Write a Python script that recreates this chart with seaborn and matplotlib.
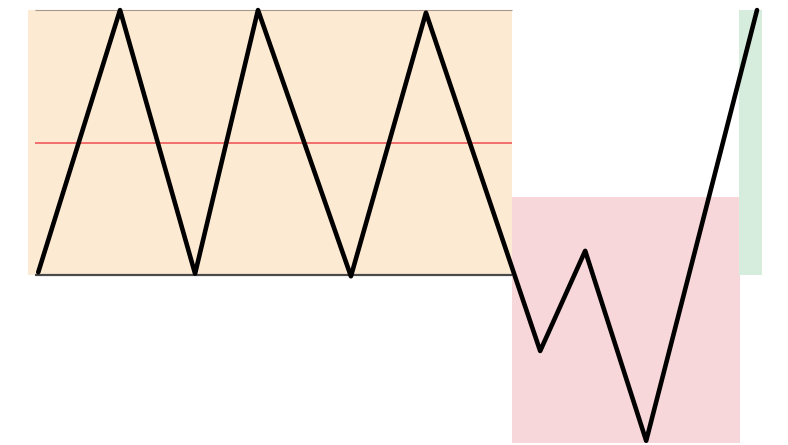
import pandas as pd
import matplotlib
matplotlib.use("Agg")
import matplotlib.pyplot as plt
import seaborn as sns

# zigzag path (time, price)
t_values = [2.1, 19.0, 34.5, 47.5, 66.7, 82.2, 105.8, 115.1, 127.7, 150.6]
price_values = [1.0, 100.0, 0.5, 100.0, -0.5, 99.0, -28.7, 9.1, -62.6, 100.0]

# zones: (start, end, low, high)
range_zone = [0.0, 100.0, 0.0, 100.0]
drop_zone = [100.0, 147.1, -63.5, 29.4]
breakout_zone = [146.9, 151.7, 0.0, 100.0]

support_level = 0.0
resistance_level = 100.0
mid_level = 50.0
level_span = [1.4, 100.0]

ORANGE = "#FDEAD2"
PINK = "#F8D7DA"
GREEN = "#D6ECDD"
RED = "#F0595C"

sns.set_style("white")

fig = plt.figure(figsize=(7.88, 4.45), dpi=100)
ax = fig.add_axes([0, 0, 1, 1])

for zone, color in [(range_zone, ORANGE), (drop_zone, PINK), (breakout_zone, GREEN)]:
    ax.fill_between([zone[0], zone[1]], zone[2], zone[3], color=color, linewidth=0, zorder=1)

ax.hlines(resistance_level, level_span[0], level_span[1], color="#A8998A", linewidth=0.8, zorder=2)
ax.hlines(support_level, level_span[0], level_span[1], color="#4A4A4A", linewidth=1.6, zorder=2)
ax.hlines(mid_level, level_span[0], level_span[1], color=RED, linewidth=1.2, zorder=2)

df = pd.DataFrame({"t": t_values, "price": price_values})
sns.lineplot(data=df, x="t", y="price", color="black", linewidth=3.3,
             sort=False, ax=ax, zorder=3)

ax.set_xlim(-5.8, 157.0)
ax.set_ylim(-64.2, 103.8)
ax.axis("off")

plt.savefig("out.png", dpi=100)
plt.close()
